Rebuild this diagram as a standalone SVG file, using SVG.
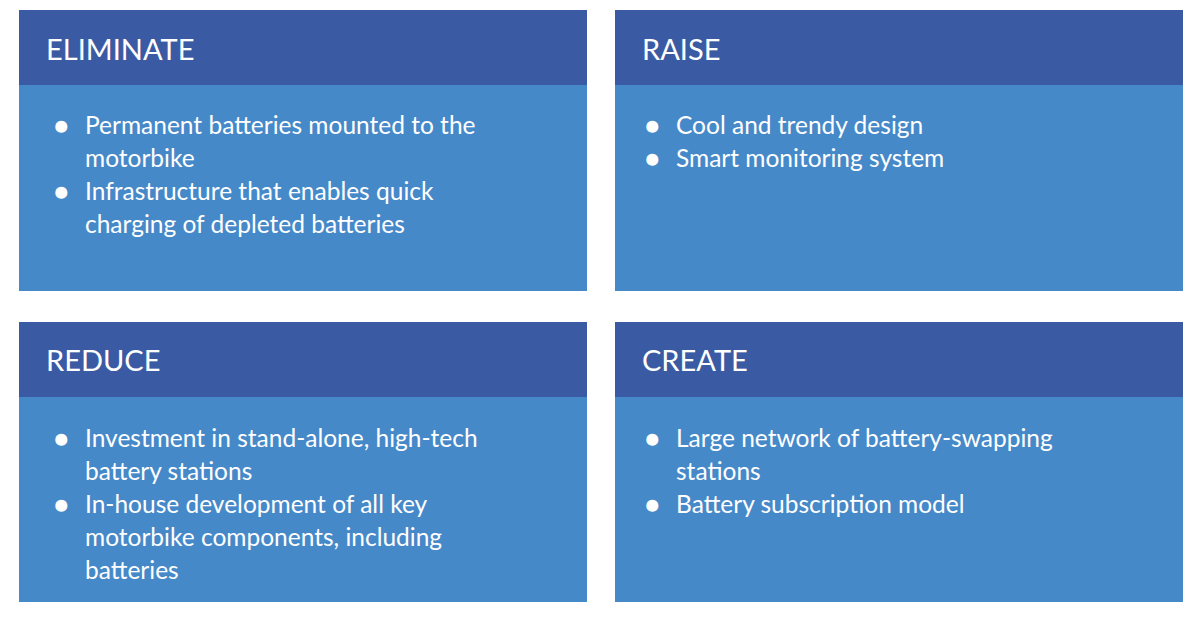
<svg xmlns="http://www.w3.org/2000/svg" width="1200" height="619" viewBox="0 0 1200 619">
<style>
.h{fill:#3a5ba3}.b{fill:#4689c9}
.t{font-family:Lato,"Open Sans",sans-serif;fill:#fff}
.ht{font-size:29px}.bt{font-size:24.5px}
</style>
<rect width="1200" height="619" fill="#fff"/>
<g id="eliminate">
<rect class="b" x="19" y="10" width="568" height="281"/><rect class="h" x="19" y="10" width="568" height="75"/>
<text class="t ht" x="46" y="60">ELIMINATE</text>
<text class="t bt"><tspan x="54" y="134">●</tspan><tspan x="85" y="134">Permanent batteries mounted to the</tspan><tspan x="85" y="167">motorbike</tspan><tspan x="54" y="200">●</tspan><tspan x="85" y="200">Infrastructure that enables quick</tspan><tspan x="85" y="233">charging of depleted batteries</tspan></text>
</g>
<g id="raise">
<rect class="b" x="615" y="10" width="568" height="281"/><rect class="h" x="615" y="10" width="568" height="75"/>
<text class="t ht" x="642" y="60">RAISE</text>
<text class="t bt"><tspan x="645" y="134">●</tspan><tspan x="676" y="134">Cool and trendy design</tspan><tspan x="645" y="167">●</tspan><tspan x="676" y="167">Smart monitoring system</tspan></text>
</g>
<g id="reduce">
<rect class="b" x="19" y="322" width="568" height="280"/><rect class="h" x="19" y="322" width="568" height="75"/>
<text class="t ht" x="46" y="371">REDUCE</text>
<text class="t bt"><tspan x="54" y="447">●</tspan><tspan x="85" y="447">Investment in stand-alone, high-tech</tspan><tspan x="85" y="480">battery stations</tspan><tspan x="54" y="513">●</tspan><tspan x="85" y="513">In-house development of all key</tspan><tspan x="85" y="546">motorbike components, including</tspan><tspan x="85" y="579">batteries</tspan></text>
</g>
<g id="create">
<rect class="b" x="615" y="322" width="568" height="280"/><rect class="h" x="615" y="322" width="568" height="75"/>
<text class="t ht" x="642" y="371">CREATE</text>
<text class="t bt"><tspan x="645" y="447">●</tspan><tspan x="676" y="447">Large network of battery-swapping</tspan><tspan x="676" y="480">stations</tspan><tspan x="645" y="513">●</tspan><tspan x="676" y="513">Battery subscription model</tspan></text>
</g>
<g id="connectors"/>
</svg>
